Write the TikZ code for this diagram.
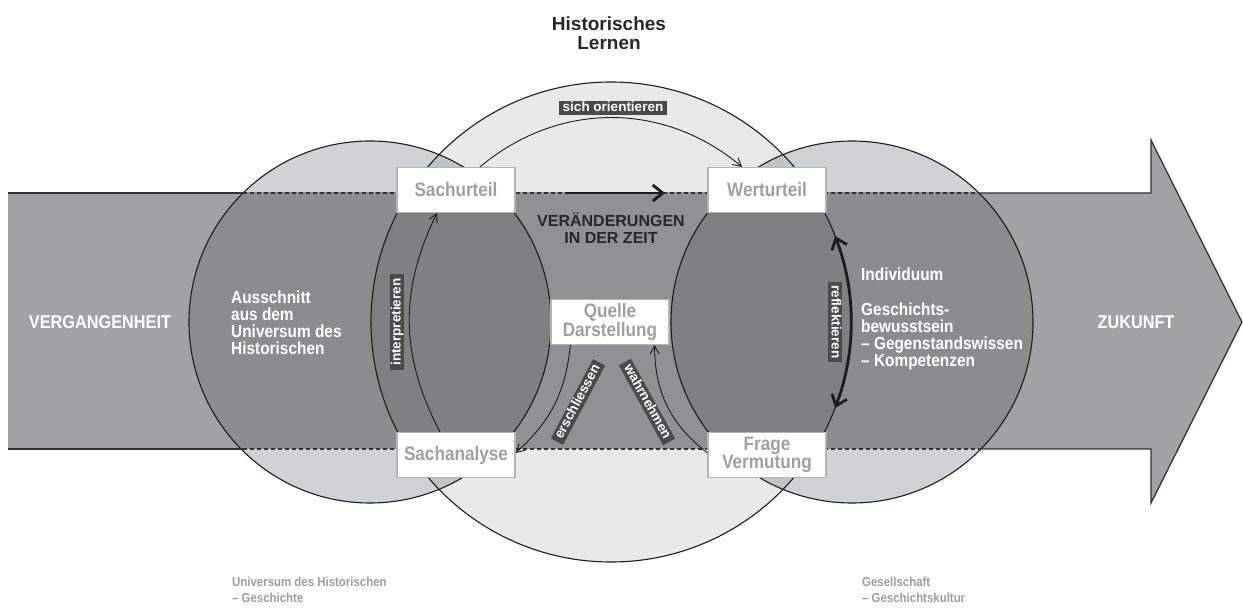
\documentclass[tikz,border=0pt]{standalone}
\usepackage{fontspec}
\setmainfont{Liberation Sans}
\newfontfamily\condfont[FakeStretch=0.88]{Liberation Sans}
\usetikzlibrary{arrows.meta}

\definecolor{bandgray}{HTML}{A2A2A6}
\definecolor{midlight}{HTML}{E9E9E9}
\definecolor{sidelight}{HTML}{D0D2D3}
\definecolor{lenslight}{HTML}{C1C3C4}
\definecolor{middark}{HTML}{919195}
\definecolor{sidedark}{HTML}{8A8C8D}
\definecolor{lensdark}{HTML}{808084}
\definecolor{taggray}{HTML}{4A4A4A}
\definecolor{boxtext}{HTML}{A0A0A4}
\definecolor{boxline}{HTML}{B4B4B4}
\definecolor{inkcol}{HTML}{1C1C1C}
\definecolor{softtext}{HTML}{9C9C9C}

\begin{document}
\begin{tikzpicture}[x=1pt, y=1pt,
    ring/.style={draw=inkcol, line width=1.1pt},
    bandline/.style={draw=inkcol!90, line width=1.3pt},
    box/.style={draw=boxline, line width=1.2pt, fill=white, minimum width=118pt, minimum height=45pt,
      inner sep=0pt, align=center, text=boxtext, font=\condfont\bfseries\fontsize{19.5}{18.5}\selectfont},
    tag/.style={fill=taggray, text=white, inner xsep=4pt, inner ysep=0.6pt, text height=9.8pt, text depth=2.8pt,
      font=\bfseries\fontsize{13.5}{14}\selectfont},
    whitebody/.style={text=white, align=left, inner sep=0pt, font=\condfont\bfseries\fontsize{17.5}{17}\selectfont},
    whitebig/.style={text=white, inner sep=0pt, font=\condfont\bfseries\fontsize{18.5}{18}\selectfont},
    softlabel/.style={text=softtext, align=left, inner sep=0pt, font=\condfont\bfseries\fontsize{13}{16}\selectfont},
    link/.style={draw=inkcol, line width=0.9pt, -{Straight Barb[length=8pt, width=9pt]}},
    bigarrow/.style={draw=inkcol, line width=2.8pt, -{Straight Barb[length=10pt, width=16pt]}}]
\useasboundingbox (0,0) rectangle (1243,611);

% Circles
\coordinate (past) at (370,289);
\coordinate (mid) at (611,289);
\coordinate (future) at (852,289);
\fill[midlight] (mid) circle[radius=240];
\fill[sidelight] (past) circle[radius=181] (future) circle[radius=181];
\begin{scope}
  \clip (mid) circle[radius=240];
  \fill[lenslight] (past) circle[radius=181] (future) circle[radius=181];
\end{scope}

% Time arrow
\fill[bandgray] (8,418) -- (1151,418) -- (1151,471) -- (1242,289) -- (1151,108) -- (1151,162) -- (8,162) -- cycle;
\begin{scope}
  \clip (8,162) rectangle (1151,418);
  \fill[middark] (mid) circle[radius=240];
  \fill[sidedark] (past) circle[radius=181] (future) circle[radius=181];
  \clip (mid) circle[radius=240];
  \fill[lensdark] (past) circle[radius=181] (future) circle[radius=181];
\end{scope}

% Outlines
\draw[ring] (mid) circle[radius=240] (past) circle[radius=181] (future) circle[radius=181];
\draw[bandline] (243,418) -- (8,418) (8,162) -- (243,162);
\draw[bandline] (979,418) -- (1151,418) -- (1151,471) -- (1242,289) -- (1151,108) -- (1151,162) -- (979,162);
\draw[bandline, dash pattern=on 4pt off 3pt] (243,418) -- (979,418) (243,162) -- (979,162);

% Nodes
\node[box] (sachurteil) at (456,421) {Sachurteil};
\node[box] (werturteil) at (767,421) {Werturteil};
\node[box] (sachanalyse) at (456,156) {Sachanalyse};
\node[box] (frage) at (767,156) {Frage\\Vermutung};
\node[box] (quelle) at (610,289) {Quelle\\Darstellung};

% Edges
\draw[link] ([xshift=24pt]sachurteil.north) to[bend left=40] ([xshift=-25pt]werturteil.north);
\draw[link] ([xshift=-16pt]sachanalyse.north) to[bend left=27] ([xshift=-19pt]sachurteil.south);
\draw[link] ([xshift=20pt]quelle.south west) to[bend left=21] ([yshift=2pt]sachanalyse.east);
\draw[link] ([yshift=2pt]frage.west) to[bend left=26] ([xshift=-15pt]quelle.south east);
\path (mid) ++(21:240) coordinate (reflTop);
\draw[bigarrow, {Straight Barb[length=10pt, width=16pt]}-{Straight Barb[length=10pt, width=16pt]}] (reflTop) arc[start angle=21, end angle=-21, radius=240];
\coordinate (wandelA) at (565,418);
\coordinate (wandelB) at (665,418);
\draw[bigarrow] (wandelA) -- (wandelB);

% Labels
\node[tag] (orient) at (613,503) {sich orientieren};
\node[tag, rotate=90] (interp) at (397,289) {interpretieren};
\node[tag, rotate=-90] (reflekt) at (835,289) {reflektieren};
\node[tag, rotate=62] (erschl) at (578,209) {erschliessen};
\node[tag, rotate=-61] (wahrn) at (647,209) {wahrnehmen};

% Texts
\node[align=center, text=inkcol!95, font=\bfseries\fontsize{19}{19}\selectfont] (title) at (609,578) {Historisches\\Lernen};
\node[align=center, text=inkcol!95, font=\bfseries\fontsize{16}{17}\selectfont] (wandel) at (611,383) {VERÄNDERUNGEN\\IN DER ZEIT};
\node[whitebig] (vergangen) at (100,289) {VERGANGENHEIT};
\node[whitebig] (zukunft) at (1136,289) {ZUKUNFT};
\node[whitebody, anchor=north west] (ausschnitt) at (231,320) {Ausschnitt\\aus dem\\Universum des\\Historischen};
\node[whitebody, anchor=north west] (individuum) at (861,343) {Individuum\\[18pt]Geschichts-\\bewusstsein\\– Gegenstandswissen\\– Kompetenzen};
\node[softlabel, anchor=north west] (universum) at (232,34) {Universum des Historischen\\– Geschichte};
\node[softlabel, anchor=north west] (gesellschaft) at (862,34) {Gesellschaft\\– Geschichtskultur};
\end{tikzpicture}
\end{document}
